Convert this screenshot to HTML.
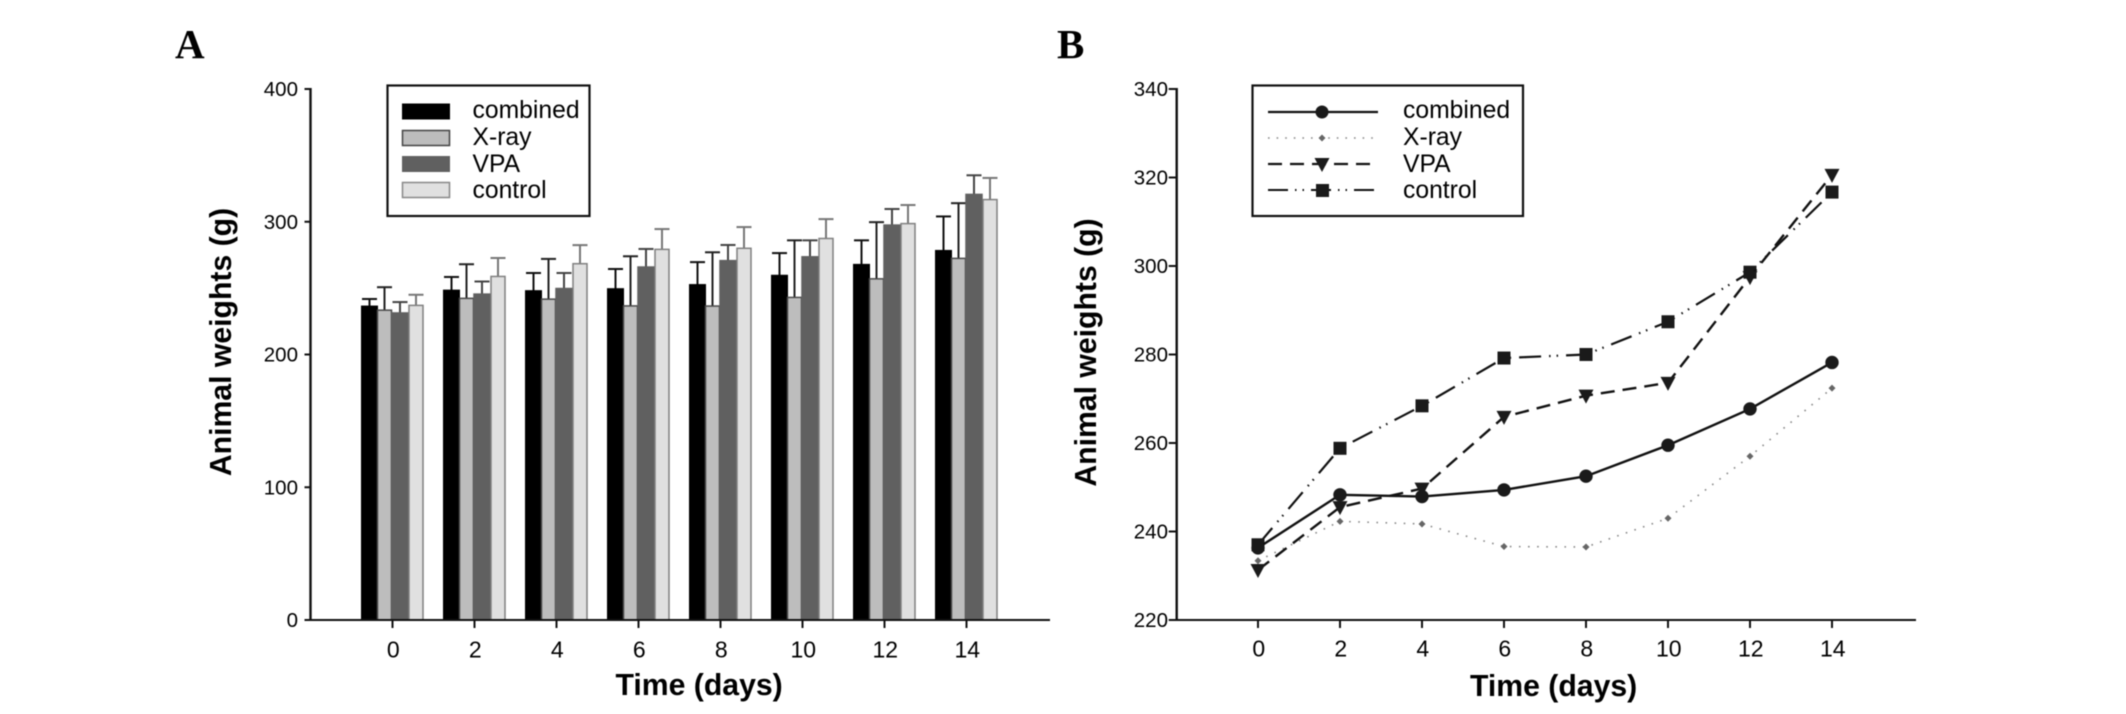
<!DOCTYPE html>
<html lang="en">
<head>
<meta charset="utf-8">
<title>Animal weights over time</title>
<style>
html,body{margin:0;padding:0;background:#fff;}
svg{display:block;font-family:"Liberation Sans",Arial,sans-serif;filter:blur(0.4px);}
.tick{font-size:20.5px;fill:#000;}
.xtick{font-size:23px;fill:#000;}
.title{font-size:30.2px;font-weight:bold;fill:#000;}
.leg{font-size:24.7px;fill:#000;}
.panel{font-family:"Liberation Serif",serif;font-size:41px;font-weight:bold;fill:#000;}
</style>
</head>
<body>
<svg id="fig" width="2126" height="714" viewBox="0 0 2126 714" xmlns="http://www.w3.org/2000/svg">
  <rect width="2126" height="714" fill="#fff"/>
  <text class="panel" x="175" y="58">A</text>
  <text class="panel" x="1057" y="58">B</text>

  <g id="plotA"></g>
  <g id="plotB"></g>

  <text class="title" transform="translate(231,342) rotate(-90)" text-anchor="middle">Animal weights (g)</text>
  <text class="title" x="615.5" y="695">Time (days)</text>
  <text class="title" transform="translate(1096,352.5) rotate(-90)" text-anchor="middle">Animal weights (g)</text>
  <text class="title" x="1470" y="696">Time (days)</text>

  <g>
    <rect x="387.5" y="85.5" width="202" height="130.5" fill="#fff" stroke="#111" stroke-width="2.2"/>
    <rect x="402" y="103.5" width="48" height="16" fill="#000"/>
    <rect x="402.5" y="130.5" width="47" height="15" fill="#bdbdbd" stroke="#444" stroke-width="1.5"/>
    <rect x="402" y="156" width="48" height="16" fill="#606060"/>
    <rect x="402.5" y="182.5" width="47" height="15" fill="#e0e0e0" stroke="#888" stroke-width="1.5"/>
    <text class="leg" x="472.5" y="118">combined</text>
    <text class="leg" x="472.5" y="145">X-ray</text>
    <text class="leg" x="472.5" y="172">VPA</text>
    <text class="leg" x="472.5" y="198">control</text>
  </g>

  <g>
    <rect x="1252.5" y="85.5" width="270.5" height="130.5" fill="#fff" stroke="#111" stroke-width="2.2"/>
    <line x1="1268" x2="1378" y1="112" y2="112" stroke="#111" stroke-width="2.2"/>
    <circle cx="1322" cy="112" r="6.5" fill="#1a1a1a"/>
    <line x1="1268" x2="1378" y1="138" y2="138" stroke="#888" stroke-width="1.6" stroke-dasharray="1.6 7"/>
    <path d="M1322 134.5l3.5 3.5l-3.5 3.5l-3.5 -3.5z" fill="#666"/>
    <line x1="1268" x2="1378" y1="164" y2="164" stroke="#111" stroke-width="2.2" stroke-dasharray="14 8"/>
    <path d="M1314.5 158h15l-7.5 14z" fill="#1a1a1a"/>
    <line x1="1268" x2="1374" y1="190" y2="190" stroke="#111" stroke-width="2" stroke-dasharray="20 7 1.5 6 1.5 7"/>
    <rect x="1316" y="184" width="13" height="13" fill="#1a1a1a"/>
    <text class="leg" x="1403" y="118">combined</text>
    <text class="leg" x="1403" y="145">X-ray</text>
    <text class="leg" x="1403" y="172">VPA</text>
    <text class="leg" x="1403" y="198">control</text>
  </g>
</svg>
<script>
var days = [0, 2, 4, 6, 8, 10, 12, 14];
var combined = [236.3, 248.3, 247.9, 249.4, 252.5, 259.5, 267.7, 278.2];
var xray = [233.4, 242.3, 241.7, 236.6, 236.5, 243, 257, 272.4];
var vpa = [231.3, 245.5, 249.7, 265.9, 270.7, 273.6, 297.5, 320.6];
var control = [237, 258.8, 268.4, 279.2, 280, 287.4, 298.6, 316.7];
var combinedErr = [5.5, 10.1, 13.5, 15, 17.1, 16.9, 18.3, 25.8];
var xrayErr = [17.3, 25.7, 30.3, 37.4, 40.5, 43, 42.7, 41.6];
var vpaErr = [8.2, 9.5, 11.7, 13.6, 11.8, 12.4, 12.1, 14.4];
var controlErr = [8, 13.9, 14, 15.3, 16, 14.6, 14, 16.3];
var barTicks = [0, 100, 200, 300, 400];
var lineTicks = [220, 240, 260, 280, 300, 320, 340];

var NS = 'http://www.w3.org/2000/svg';
var plotA = document.getElementById('plotA');
var plotB = document.getElementById('plotB');

function mk(parent, tag, props, text) {
  var el = document.createElementNS(NS, tag);
  for (var k in props) el.setAttribute(k, props[k]);
  if (text !== undefined) el.textContent = text;
  parent.appendChild(el);
  return el;
}
function mark(el, name) {
  
  
  return el;
}

/* axis functions */
function xBar(d) { return 392.5 + (d - days[0]) * 41; }
function yBar(v) { return 620 - (v - barTicks[0]) * 531 / (barTicks[barTicks.length - 1] - barTicks[0]); }
function xLine(d) { return 1258 + (d - days[0]) * 41; }
function yLine(v) { return 620 - (v - lineTicks[0]) * 531 / (lineTicks[lineTicks.length - 1] - lineTicks[0]); }

function axes(parent, prefix, x0, x1, xf, yf, yTicks, labelRight, tickLen, xBase) {
  mark(mk(parent, 'line', {x1: x0, x2: x0, y1: 88, y2: 621, stroke: '#111', 'stroke-width': 2.4}), prefix + '-y-axis');
  mark(mk(parent, 'line', {x1: x0 - 1, x2: x1, y1: 620, y2: 620, stroke: '#111', 'stroke-width': 2}), prefix + '-x-axis');
  yTicks.forEach(function (t) {
    mark(mk(parent, 'line', {x1: x0 - tickLen, x2: x0, y1: yf(t), y2: yf(t), stroke: '#111', 'stroke-width': 2}), prefix + '-y-tick-' + t);
    mark(mk(parent, 'text', {x: labelRight, y: yf(t) + 7, 'text-anchor': 'end', 'class': 'tick'}, t), prefix + '-y-label-' + t);
  });
  days.forEach(function (d) {
    mark(mk(parent, 'line', {x1: xf(d), x2: xf(d), y1: 620, y2: 628, stroke: '#111', 'stroke-width': 2}), prefix + '-x-tick-' + d);
    mark(mk(parent, 'text', {x: xf(d) + 0.8, y: xBase, 'text-anchor': 'middle', 'class': 'xtick'}, d), prefix + '-x-label-' + d);
  });
}

/* bar chart */
var barSeries = [
  {key: 'combined', vals: combined, err: combinedErr, off: -23, w: 15.5, fill: '#000', stroke: '#000', errC: '#111'},
  {key: 'xray', vals: xray, err: xrayErr, off: -8, w: 14, fill: '#bdbdbd', stroke: '#4a4a4a', errC: '#222'},
  {key: 'vpa', vals: vpa, err: vpaErr, off: 7.5, w: 16, fill: '#606060', stroke: '#606060', errC: '#444'},
  {key: 'control', vals: control, err: controlErr, off: 23.5, w: 14, fill: '#e0e0e0', stroke: '#808080', errC: '#777'}
];
barSeries.forEach(function (s) {
  s.vals.forEach(function (v, i) {
    var cx = xBar(days[i]) + s.off;
    var top = yBar(v + s.err[i]);
    mark(mk(plotA, 'line', {x1: cx, x2: cx, y1: yBar(v), y2: top, stroke: s.errC, 'stroke-width': 2}), 'error-stem-' + s.key + '-day-' + days[i]);
    mark(mk(plotA, 'line', {x1: cx - 7.5, x2: cx + 7.5, y1: top, y2: top, stroke: s.errC, 'stroke-width': 2}), 'error-cap-' + s.key + '-day-' + days[i]);
    mark(mk(plotA, 'rect', {x: cx - s.w / 2, y: yBar(v), width: s.w, height: yBar(0) - yBar(v), fill: s.fill, stroke: s.stroke, 'stroke-width': 1.5}), 'bar-' + s.key + '-day-' + days[i]);
  });
});
axes(plotA, 'bar', 310.5, 1050, xBar, yBar, barTicks, 298, 6, 657.5);

/* line chart */
axes(plotB, 'line', 1176.7, 1916, xLine, yLine, lineTicks, 1168, 8, 656.5);
var lineSeries = [
  {key: 'xray', vals: xray, stroke: '#888', sw: 1.6, dash: '1.6 7.5', shape: 'diamond'},
  {key: 'control', vals: control, stroke: '#111', sw: 2.2, dash: '22 8 1.5 6 1.5 8', shape: 'square'},
  {key: 'vpa', vals: vpa, stroke: '#111', sw: 2.4, dash: '14 8', shape: 'triangle'},
  {key: 'combined', vals: combined, stroke: '#111', sw: 2.4, dash: 'none', shape: 'circle'}
];
function marker(shape, x, y) {
  if (shape === 'circle') return mk(plotB, 'circle', {cx: x, cy: y, r: 6.7, fill: '#1a1a1a'});
  if (shape === 'square') return mk(plotB, 'rect', {x: x - 6.5, y: y - 6.5, width: 13, height: 13, fill: '#1a1a1a'});
  if (shape === 'triangle') return mk(plotB, 'path', {d: 'M' + (x - 7.5) + ' ' + (y - 6) + 'h15l-7.5 14z', fill: '#1a1a1a'});
  return mk(plotB, 'path', {d: 'M' + x + ' ' + (y - 3.5) + 'l3.5 3.5l-3.5 3.5l-3.5 -3.5z', fill: '#666'});
}
lineSeries.forEach(function (s) {
  var pts = s.vals.map(function (v, i) { return xLine(days[i]) + ',' + yLine(v); }).join(' ');
  var props = {points: pts, fill: 'none', stroke: s.stroke, 'stroke-width': s.sw};
  if (s.dash !== 'none') props['stroke-dasharray'] = s.dash;
  mark(mk(plotB, 'polyline', props), 'line-' + s.key);
  s.vals.forEach(function (v, i) {
    mark(marker(s.shape, xLine(days[i]), yLine(v)), 'point-' + s.key + '-day-' + days[i]);
  });
});
</script>
</body>
</html>
